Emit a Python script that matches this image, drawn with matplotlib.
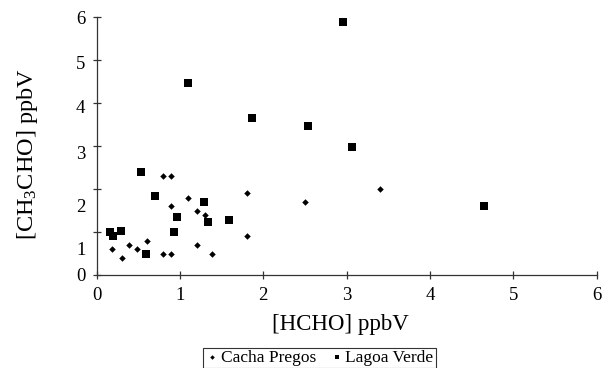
import matplotlib
matplotlib.use('Agg')

import matplotlib.pyplot as plt

plt.rcParams['font.family'] = ['Liberation Serif', 'DejaVu Serif']
plt.rcParams['mathtext.fontset'] = 'custom'
plt.rcParams['mathtext.rm'] = 'Liberation Serif'
plt.rcParams['mathtext.it'] = 'Liberation Serif:italic'

# Cacha Pregos (diamonds)
cacha_x = [0.80, 0.89, 1.10, 0.89, 1.20, 1.30, 1.80, 2.50, 3.40, 1.80,
           1.20, 0.60, 0.39, 0.19, 0.49, 0.30, 0.80, 0.89, 1.39]
cacha_y = [2.30, 2.30, 1.79, 1.61, 1.49, 1.40, 1.90, 1.70, 2.00, 0.91,
           0.70, 0.79, 0.70, 0.61, 0.61, 0.40, 0.49, 0.49, 0.49]

# Lagoa Verde (squares)
lagoa_x = [2.96, 1.10, 1.86, 2.54, 3.07, 0.53, 0.70, 1.29, 4.65, 0.96,
           1.59, 1.34, 0.16, 0.29, 0.20, 0.93, 0.59]
lagoa_y = [5.90, 4.48, 3.65, 3.47, 2.98, 2.39, 1.84, 1.70, 1.61, 1.35,
           1.28, 1.24, 0.99, 1.03, 0.90, 1.00, 0.49]

x_ticks = [0, 1, 2, 3, 4, 5, 6]
y_ticks = [0, 1, 2, 3, 4, 5, 6]
y_labels = ['0', '1', '2', '3', '4', '5', '6']
# the label text in the original sits a little off its tick
y_label_pos = [0, 0.62, 1.62, 2.86, 3.93, 4.95, 6]

fig = plt.figure(figsize=(6.15, 3.68), dpi=100)
ax = fig.add_axes([0.157, 0.2535, 0.813, 0.6995])

ax.scatter(cacha_x, cacha_y, marker='D', s=11, color='black', linewidths=0,
           label='Cacha Pregos')
ax.scatter(lagoa_x, lagoa_y, marker='s', s=26, color='black', linewidths=0,
           label='Lagoa Verde')

ax.set_xlim(0, 6)
ax.set_ylim(0, 6)
ax.spines['top'].set_visible(False)
ax.spines['right'].set_visible(False)
for sp in ['left', 'bottom']:
    ax.spines[sp].set_linewidth(0.9)
    ax.spines[sp].set_color('#333333')

ax.set_xticks(x_ticks)
ax.set_xticklabels([str(t) for t in x_ticks], fontsize=13.5)
ax.set_yticks(y_ticks)
ax.set_yticklabels([''] * len(y_ticks))
ax.yaxis.remove_overlapping_locs = False
ax.set_yticks(y_label_pos, minor=True)
ax.set_yticklabels(y_labels, minor=True, fontsize=13.5)
ax.tick_params(axis='y', which='minor', length=0, pad=8)
ax.tick_params(axis='both', which='major', direction='inout', length=6,
               width=0.9, color='#333333')
ax.tick_params(axis='x', pad=6)

ax.set_xlabel('[HCHO] ppbV', fontsize=16.5, labelpad=7)
ax.xaxis.label.set_x(0.487)
ax.set_ylabel('[CH$_3$CHO] ppbV', fontsize=17.5, labelpad=26)
ax.yaxis.label.set_y(0.47)

leg = fig.legend(loc='lower center', bbox_to_anchor=(0.519, -0.005), ncol=2,
                 fontsize=12.5, frameon=True, fancybox=False, handletextpad=0.1,
                 columnspacing=0.8, handlelength=0.8, borderpad=0.12,
                 markerscale=0.7, borderaxespad=0.1)
leg.get_frame().set_edgecolor('black')
leg.get_frame().set_linewidth(0.8)

fig.savefig('out.png', dpi=100)
